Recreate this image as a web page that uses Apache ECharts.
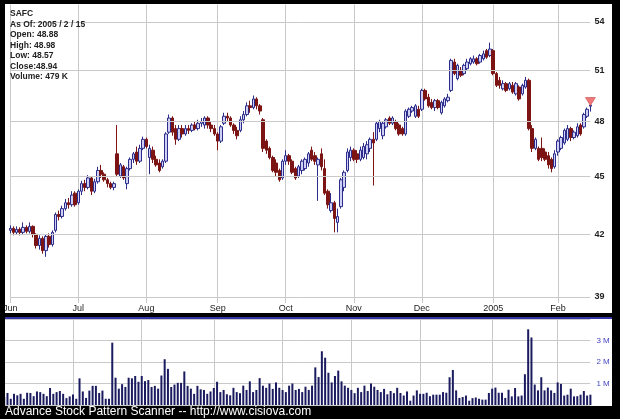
<!DOCTYPE html>
<html><head><meta charset="utf-8">
<script src="https://cdn.jsdelivr.net/npm/echarts@6/dist/echarts.min.js"></script>
<style>html,body{margin:0;padding:0;background:#000;}#c{width:620px;height:419px;}</style>
</head><body><div id="c"></div>
<script>
// ---------- data ----------
const infoLines = ['SAFC', 'As Of: 2005 / 2 / 15', 'Open: 48.88', 'High: 48.98', 'Low: 48.57', 'Close:48.94', 'Volume: 479 K'];
const footerText = 'Advance Stock Pattern Scanner -- http://www.cisiova.com';
const holidays = ['2004-06-11', '2004-07-05', '2004-09-06', '2004-11-25', '2004-12-24', '2005-01-17'];
const monthLabels = {'06': 'Jun', '07': 'Jul', '08': 'Aug', '09': 'Sep', '10': 'Oct', '11': 'Nov', '12': 'Dec', '01': '2005', '02': 'Feb'};
const priceTicks = [39, 42, 45, 48, 51, 54];
const volumeTickLabels = {1: '1 M', 2: '2 M', 3: '3 M'};

const openP = [
42.20,42.30,42.10,42.25,42.10,42.35,42.15,42.40,42.00,41.45,
41.80,41.20,41.90,41.50,42.20,43.00,42.90,43.30,43.60,43.50,
44.10,43.60,44.20,44.60,44.40,44.90,44.20,44.70,45.30,45.10,
44.80,44.60,44.40,46.20,45.00,45.50,44.60,45.40,45.90,46.30,
45.80,46.50,47.00,46.00,46.40,45.90,45.70,45.50,45.80,47.40,
48.20,47.60,47.00,47.60,47.30,47.60,47.50,47.80,47.60,47.90,
47.80,48.20,47.80,47.60,47.30,46.90,47.90,48.30,48.20,47.80,
47.50,47.50,48.10,48.40,48.90,48.80,49.30,48.90,48.10,46.90,
46.50,46.00,45.70,45.30,44.90,45.80,46.10,45.80,45.40,45.00,
45.30,45.40,45.70,46.40,46.10,45.60,46.20,45.40,44.20,43.20,
43.60,42.60,43.40,44.40,45.30,46.00,46.40,46.20,45.90,46.00,
46.20,46.50,47.00,47.00,47.60,47.20,47.70,48.20,47.90,48.00,
47.80,47.60,47.30,48.30,48.60,48.30,48.70,48.70,49.80,49.40,
49.10,48.80,49.20,48.50,48.90,49.20,49.80,51.50,50.50,51.00,
50.80,51.10,51.40,51.50,51.70,51.50,51.70,52.20,51.90,52.20,
50.80,50.40,49.90,50.20,49.90,50.10,49.60,50.00,49.60,50.00,
50.40,47.60,46.50,46.50,46.50,46.30,46.10,45.90,45.50,46.30,
46.50,46.80,47.00,47.60,47.10,47.20,47.80,47.70,48.30,48.88];
const closeP = [
42.30,42.10,42.25,42.10,42.35,42.15,42.40,42.00,41.45,41.80,
41.20,41.90,41.50,42.10,43.00,42.90,43.30,43.60,43.50,44.00,
43.50,44.20,44.60,44.40,44.90,44.20,44.70,45.30,45.10,44.80,
44.60,44.40,44.60,45.10,45.60,44.90,45.40,45.90,46.20,45.80,
46.50,47.00,46.60,46.50,45.90,45.60,45.30,45.80,47.30,48.20,
47.40,47.00,47.60,47.30,47.60,47.50,47.80,47.60,47.90,48.00,
48.20,47.80,47.60,47.30,46.90,47.70,48.30,48.20,47.80,47.50,
47.20,48.10,48.40,48.90,48.80,49.30,48.90,48.60,46.50,46.40,
46.00,45.30,45.20,44.80,45.80,46.10,45.80,45.20,44.90,45.50,
45.80,45.90,46.20,45.90,45.80,45.90,45.50,44.10,43.50,43.60,
42.80,42.90,44.80,45.20,46.30,46.40,45.90,45.90,46.40,46.60,
46.70,47.00,46.80,47.90,48.00,47.90,48.10,47.90,48.20,47.60,
47.30,47.30,48.60,48.70,48.80,48.90,48.30,49.80,49.30,48.90,
48.80,49.20,48.80,49.10,49.30,49.40,51.60,50.80,51.30,50.70,
51.30,51.50,51.70,51.70,51.40,51.90,52.00,51.80,52.30,50.80,
50.10,50.10,50.20,49.80,50.20,49.70,50.20,49.30,50.10,50.40,
47.60,46.50,47.00,45.90,46.00,45.90,45.60,45.40,46.20,46.90,
47.10,47.50,47.60,47.10,47.40,47.70,47.30,48.40,48.70,48.94];
const lowP = [
42.05,41.95,42.00,41.95,42.00,42.05,42.05,41.85,41.30,41.25,
41.05,40.90,41.35,41.40,42.10,42.70,42.80,43.20,43.30,43.40,
43.40,43.50,44.00,44.20,44.30,44.00,44.10,44.60,44.90,44.70,
44.40,44.30,44.25,45.00,44.90,44.80,44.30,45.30,45.70,45.60,
45.70,46.40,46.50,45.10,45.70,45.50,45.20,45.40,45.70,47.30,
47.20,46.70,46.90,47.10,47.20,47.30,47.40,47.50,47.50,47.70,
47.60,47.60,47.40,47.20,46.40,46.80,47.80,48.00,47.70,47.30,
47.00,47.40,47.90,48.30,48.50,48.70,48.70,48.40,46.30,46.20,
45.90,45.20,45.00,44.70,44.80,45.60,45.60,45.10,44.80,44.90,
45.10,45.30,45.50,45.80,45.60,43.70,45.30,44.00,43.30,43.10,
42.10,42.10,43.30,44.20,45.20,45.80,45.80,45.70,45.80,45.90,
45.90,46.30,44.50,46.90,47.40,47.00,47.60,47.80,47.80,47.50,
47.20,47.20,47.20,48.20,48.50,48.20,48.20,48.60,49.20,48.80,
48.70,48.60,48.70,48.40,48.80,49.10,49.70,50.70,50.40,50.60,
50.70,51.00,51.30,51.40,51.30,51.40,51.60,51.70,51.80,50.70,
50.00,49.90,49.80,49.70,49.80,49.60,49.50,49.20,49.50,49.90,
47.50,46.30,46.40,45.80,45.80,45.80,45.40,45.20,45.40,46.10,
46.40,46.70,46.90,46.90,47.00,47.10,47.20,47.60,48.20,48.57];
const highP = [
42.45,42.40,42.40,42.35,42.60,42.45,42.60,42.45,42.05,41.95,
41.90,42.00,42.05,42.20,43.10,43.20,43.45,43.80,43.85,44.20,
44.20,44.30,44.75,44.80,45.05,45.00,44.85,45.50,45.60,45.20,
44.90,44.70,44.70,47.80,45.70,45.60,45.50,46.00,46.30,46.60,
46.70,47.15,47.10,46.70,46.60,46.10,45.90,45.90,47.40,48.40,
48.30,47.80,47.80,47.80,47.80,47.80,47.90,48.00,48.10,48.20,
48.30,48.30,48.00,47.80,47.40,47.80,48.50,48.50,48.30,47.90,
47.70,48.30,48.60,49.10,49.20,49.50,49.40,49.00,48.20,47.00,
46.60,46.10,45.90,45.40,45.90,46.40,46.20,45.90,45.50,45.60,
45.90,46.00,46.30,46.60,46.30,46.00,46.50,45.90,44.30,44.10,
43.70,43.30,44.90,45.30,46.50,46.60,46.50,46.40,46.60,46.80,
46.90,47.10,47.40,48.00,48.10,48.00,48.20,48.30,48.30,48.10,
47.90,47.70,48.70,48.80,48.90,49.00,48.90,49.90,49.90,49.60,
49.30,49.30,49.30,49.20,49.40,49.60,51.70,51.70,51.40,51.20,
51.40,51.70,51.80,51.90,51.80,52.00,52.20,52.30,52.70,52.30,
50.90,50.60,50.40,50.30,50.30,50.30,50.30,50.10,50.20,50.60,
50.50,47.80,47.10,46.60,47.10,46.50,46.30,46.00,46.40,47.00,
47.20,47.60,47.80,47.70,47.50,47.90,47.90,48.50,48.80,48.98];
const volumeM = [
0.37,0.56,0.29,0.52,0.45,0.52,0.29,0.57,0.56,0.41,
0.63,0.60,0.52,0.41,0.79,0.52,0.60,0.65,0.52,0.32,
0.40,0.49,0.29,1.24,0.63,0.33,0.67,0.89,0.89,0.56,
0.67,0.29,0.29,2.90,1.27,0.76,0.97,0.84,1.27,1.24,
1.35,1.08,1.35,1.11,1.16,0.84,0.89,0.76,1.37,2.13,
1.68,0.84,0.95,1.03,1.03,1.56,0.89,0.76,0.52,0.89,
0.73,0.70,0.52,0.63,0.79,1.08,0.60,0.70,0.50,0.45,
0.80,0.60,0.55,0.90,0.70,1.10,0.60,0.70,1.25,0.90,
0.80,1.00,0.75,1.05,0.80,0.70,0.60,0.90,1.00,0.70,
0.75,0.60,0.85,0.70,0.90,1.75,1.30,2.50,2.20,1.50,
1.05,1.35,1.60,1.10,0.90,0.80,0.70,0.55,0.80,0.60,
0.90,0.65,1.00,0.85,0.70,0.60,0.75,0.50,0.65,0.55,
0.80,0.56,0.44,0.63,0.20,0.44,0.68,0.52,0.52,0.57,
0.41,0.48,0.48,0.48,0.60,0.57,1.29,1.63,0.68,0.33,
0.37,0.44,0.20,0.32,0.35,0.29,0.25,0.25,0.56,0.76,
0.81,0.57,0.57,0.33,0.71,0.40,0.79,0.40,0.44,1.43,
3.52,3.14,0.95,0.68,1.29,0.68,0.81,0.68,0.56,1.05,
0.98,0.44,0.48,0.76,0.40,0.41,0.48,0.65,0.44,0.48];

// ---------- trading-day categories ----------
const dates = [];
for (let d = new Date(Date.UTC(2004, 5, 1)); d <= new Date(Date.UTC(2005, 1, 15)); d.setUTCDate(d.getUTCDate() + 1)) {
  const wd = d.getUTCDay();
  const s = d.toISOString().slice(0, 10);
  if (wd === 0 || wd === 6 || holidays.indexOf(s) >= 0) continue;
  dates.push(s);
}
const monthStart = dates.map((d, i) => i === 0 || d.slice(5, 7) !== dates[i - 1].slice(5, 7));
const isMonthStart = (i) => !!monthStart[i];
const candles = dates.map((d, i) => [openP[i], closeP[i], lowP[i], highP[i]]);
const lastIdx = dates.length - 1;

const FONT = '"Liberation Sans", Arial, Helvetica, sans-serif';
const GRID_COLOR = '#c9c9c9';
const gridLeft = 4.2, gridWidth = 586.2;

const graphics = [
  {type: 'rect', z: -10, silent: true, shape: {x: 5, y: 4, width: 607, height: 309}, style: {fill: '#ffffff'}},
  {type: 'rect', z: -10, silent: true, shape: {x: 5, y: 319, width: 607, height: 87}, style: {fill: '#ffffff'}},
  {type: 'rect', z: -10, silent: true, shape: {x: 5, y: 317, width: 607, height: 2}, style: {fill: '#3434a8'}},
  {type: 'rect', z: 100, silent: true, shape: {x: 0, y: 0, width: 5, height: 419}, style: {fill: '#000000'}},
  {type: 'text', z: 100, silent: true, x: 5, y: 412,
   style: {text: footerText, fill: '#ffffff', font: '12px ' + FONT, verticalAlign: 'middle', textVerticalAlign: 'middle'}}
];
infoLines.forEach((t, k) => {
  graphics.push({type: 'text', z: 100, silent: true, x: 10, y: 14 + k * 10.5,
    style: {text: t, fill: '#222222', font: 'bold 8.5px ' + FONT, verticalAlign: 'middle', textVerticalAlign: 'middle'}});
});

const chart = echarts.init(document.getElementById('c'), null, {renderer: 'canvas'});
chart.setOption({
  animation: false,
  backgroundColor: '#000000',
  graphic: {elements: graphics},
  grid: [
    {left: gridLeft, top: 4.5, width: gridWidth, height: 292.5},
    {left: gridLeft, top: 319, width: gridWidth, height: 86}
  ],
  xAxis: [
    {type: 'category', gridIndex: 0, data: dates, boundaryGap: false,
     axisLine: {show: false},
     axisTick: {show: true, interval: isMonthStart, length: 6, lineStyle: {color: GRID_COLOR}},
     axisLabel: {interval: isMonthStart, formatter: (v) => monthLabels[v.slice(5, 7)], color: '#222', fontSize: 9, margin: 7, fontFamily: FONT},
     splitLine: {show: true, interval: isMonthStart, lineStyle: {color: GRID_COLOR, width: 1}}},
    {type: 'category', gridIndex: 1, data: dates, boundaryGap: false,
     axisLine: {show: false}, axisTick: {show: false}, axisLabel: {show: false},
     splitLine: {show: true, interval: isMonthStart, lineStyle: {color: GRID_COLOR, width: 1}}}
  ],
  yAxis: [
    {type: 'log', logBase: 10, gridIndex: 0, min: 39, max: 55.13,
     axisLine: {show: false}, axisTick: {show: false}, axisLabel: {show: false}, splitLine: {show: false}},
    {type: 'value', gridIndex: 1, position: 'right', min: 0, max: 4, interval: 1,
     axisLine: {show: false}, axisTick: {show: false},
     axisLabel: {formatter: (v) => volumeTickLabels[v] || '', color: '#4646c0', fontSize: 8, margin: 6, fontFamily: FONT},
     splitLine: {show: true, lineStyle: {color: GRID_COLOR, width: 1}}}
  ],
  series: [
    {type: 'candlestick', xAxisIndex: 0, yAxisIndex: 0, data: candles, barWidth: 3,
     itemStyle: {color: '#d0d0f4', color0: '#7d1414', borderColor: '#2c2c8c', borderColor0: '#7d1414', borderWidth: 1},
     markLine: {silent: true, symbol: ['none', 'none'], animation: false,
       lineStyle: {color: GRID_COLOR, width: 1, type: 'solid'},
       label: {position: 'end', formatter: (p) => String(p.value), color: '#222', fontSize: 9, fontWeight: 'bold', fontFamily: FONT, distance: 4},
       emphasis: {disabled: true},
       data: priceTicks.map((v) => ({yAxis: v}))},
     markPoint: {silent: true, animation: false,
       data: [{coord: [dates[lastIdx], 49.15], symbol: 'triangle', symbolSize: [10, 8], symbolRotate: 180,
               itemStyle: {color: '#f07878', borderColor: '#b83838', borderWidth: 0.5}, label: {show: false}}]}},
    {type: 'bar', xAxisIndex: 1, yAxisIndex: 1, data: volumeM, barWidth: 2,
     itemStyle: {color: '#1b1b60'}}
  ]
});
</script>
</body></html>
